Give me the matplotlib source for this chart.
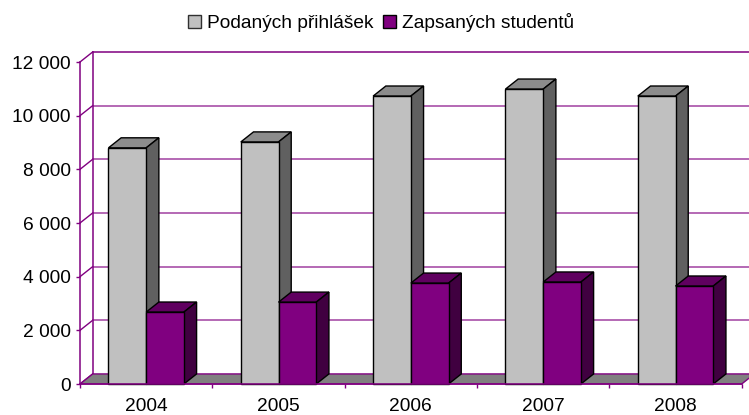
import numpy as np
import matplotlib
matplotlib.use('Agg')
import matplotlib.pyplot as plt
from matplotlib.patches import Polygon, Patch

plt.rcParams['font.family'] = ['Liberation Sans', 'DejaVu Sans']

years = ['2004', '2005', '2006', '2007', '2008']
podanych = [8800, 9020, 10730, 10990, 10730]
zapsanych = [2680, 3050, 3760, 3800, 3650]
y_ticks = [0, 2000, 4000, 6000, 8000, 10000, 12000]
y_labels = ['0', '2 000', '4 000', '6 000', '8 000', '10 000', '12 000']

line_col = '#800080'
grid_col = '#a040a0'
gray_cols = ('#c0c0c0', '#606060', '#8c8c8c')
purple_cols = ('#800080', '#400040', '#600060')

# hloubka 3D efektu v jednotkach dat
dx = 0.096
dy = 375
bar_w = 0.285

fig = plt.figure(figsize=(7.49, 4.15), dpi=100)
ax = fig.add_axes([80 / 749, 1 - 384 / 415, 661.7 / 749, 322 / 415])
ax.set_xlim(0, 5)
ax.set_ylim(0, 12000)


def poly(pts, col, z, edge='black', lw=1.0):
    ax.add_patch(Polygon(pts, closed=True, facecolor=col, edgecolor=edge, linewidth=lw,
                         zorder=z, clip_on=False))


def bar3d(x, h, cols, z):
    # predni stena, bok, vrsek
    poly([(x, 0), (x + bar_w, 0), (x + bar_w, h), (x, h)], cols[0], z + 0.2)
    poly([(x + bar_w, 0), (x + bar_w + dx, dy), (x + bar_w + dx, h + dy), (x + bar_w, h)], cols[1], z + 0.1)
    poly([(x, h), (x + bar_w, h), (x + bar_w + dx, h + dy), (x + dx, h + dy)], cols[2], z)


# podlaha
poly([(0, 0), (5, 0), (5 + dx, dy), (dx, dy)], '#808080', 1, edge=line_col, lw=1.0)

# mrizka na zadni a bocni stene
for t in y_ticks:
    ax.plot([0, dx], [t, t + dy], color=line_col, lw=1.0, zorder=0.5, clip_on=False)
    if t > 0:
        ax.plot([dx, 5 + dx], [t + dy, t + dy], color=grid_col if t < 12000 else line_col,
                lw=1.1, zorder=0.5, clip_on=False)
ax.plot([dx, dx], [dy, 12000 + dy], color=line_col, lw=1.1, zorder=0.5, clip_on=False)

for i in range(len(years)):
    bar3d(i + 0.5 - bar_w, podanych[i], gray_cols, 2 + i)
    bar3d(i + 0.5, zapsanych[i], purple_cols, 2.5 + i)

for s in ['top', 'right']:
    ax.spines[s].set_visible(False)
for s in ['left', 'bottom']:
    ax.spines[s].set_color(line_col)
    ax.spines[s].set_linewidth(1.1)
    ax.spines[s].set_zorder(20)

ax.set_yticks(y_ticks)
ax.set_yticklabels(y_labels, fontsize=13.8, color='black')
ax.tick_params(axis='y', color=line_col, length=3, width=1, pad=3.5)
ax.set_xticks(np.arange(6))
ax.set_xticklabels([])
ax.tick_params(axis='x', color=line_col, length=3, width=1)
ax.set_xticks(np.arange(5) + 0.5, minor=True)
ax.set_xticklabels(years, minor=True, fontsize=13.8)
ax.tick_params(axis='x', which='minor', length=0, pad=10)

handles = [Patch(facecolor=gray_cols[0], edgecolor='#303030', label='Podaných přihlášek'),
           Patch(facecolor=purple_cols[0], edgecolor='black', label='Zapsaných studentů')]
fig.legend(handles=handles, loc='center', bbox_to_anchor=(381 / 749, 1 - 23 / 415), ncol=2,
           frameon=False, fontsize=13.8, handlelength=0.66, handleheight=0.66,
           handletextpad=0.31, columnspacing=0.52, borderpad=0)

plt.savefig('out.png', dpi=100)
